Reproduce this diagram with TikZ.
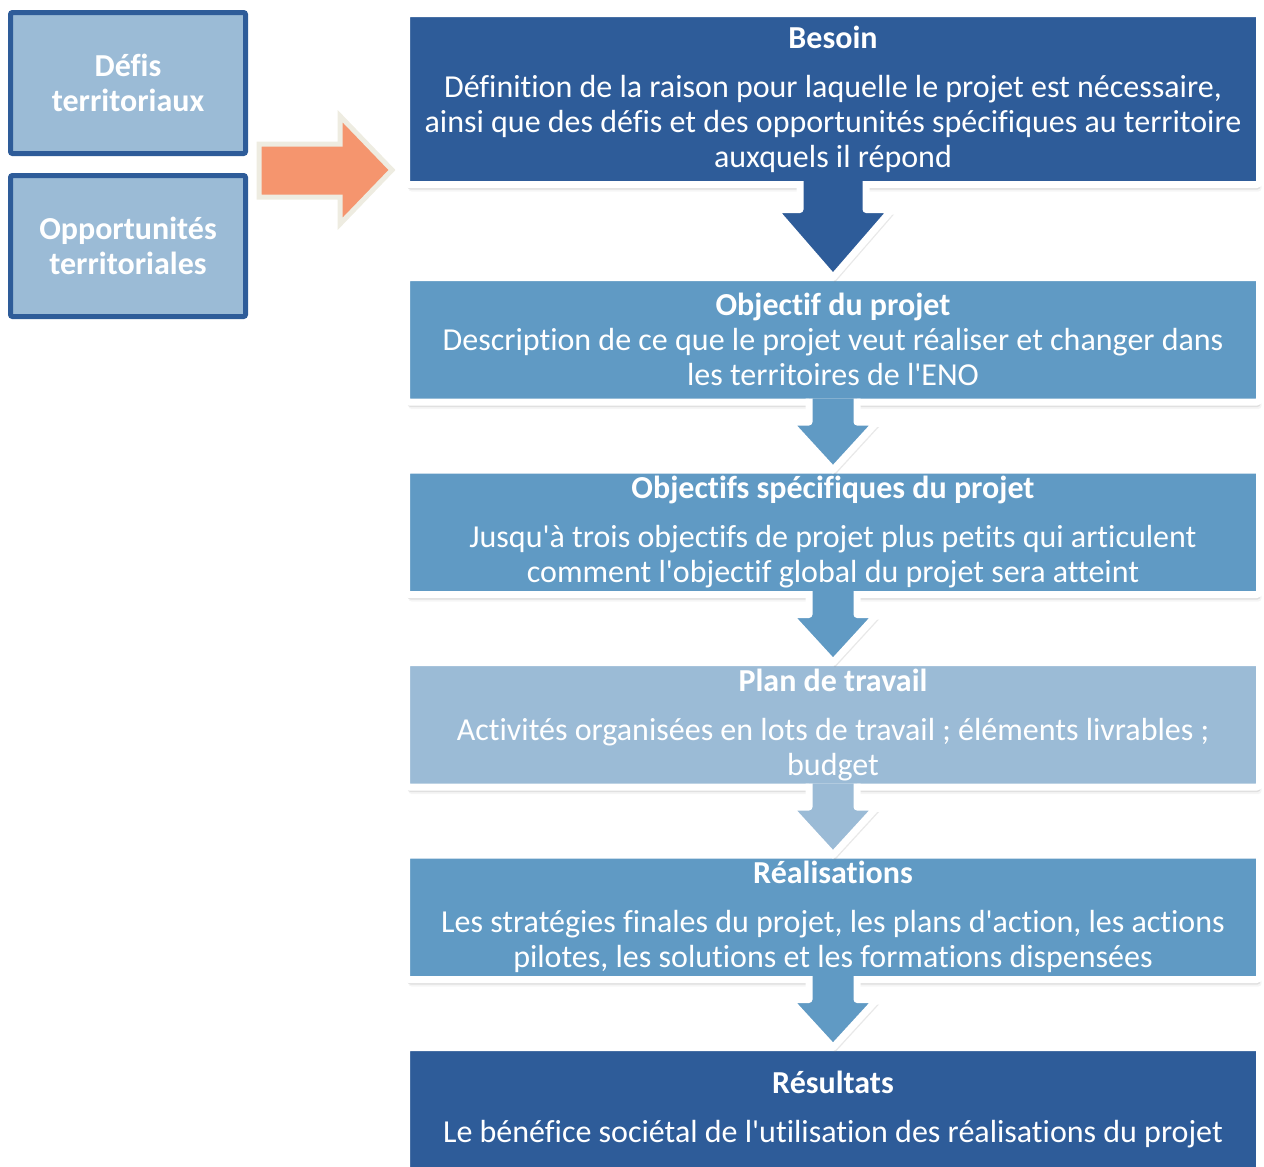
\documentclass[tikz,border=0pt]{standalone}
\usepackage{fontspec}
\setmainfont{Carlito}[Ligatures={TeXOff,CommonOff}]
\usetikzlibrary{positioning,calc,shadows}

\definecolor{dkblue}{RGB}{46,92,153}
\definecolor{midblue}{RGB}{96,154,196}
\definecolor{ltblue}{RGB}{155,187,214}
\definecolor{arrorange}{RGB}{245,149,110}
\definecolor{arrborder}{RGB}{238,236,225}

\begin{document}
\begin{tikzpicture}[x=0.5pt, y=-0.5pt,
  stepbox/.style={draw=white, line width=3.5pt, text=white, align=center,
    minimum width=426.5pt, minimum height=62.25pt, inner sep=0pt, outer sep=0pt,
    rounded corners=1.5pt, font={\fontsize{16}{17.5}\selectfont},
    drop shadow={shadow xshift=0.5pt, shadow yshift=-2.5pt, opacity=0.18},
    drop shadow={shadow xshift=1pt, shadow yshift=-3.5pt, opacity=0.08}},
  sidebox/.style={fill=ltblue, draw=dkblue, line width=2.5pt, rounded corners=1pt,
    text=white, align=center, minimum width=117.5pt, minimum height=70.5pt,
    inner sep=0pt, outer sep=0pt, font={\fontsize{16}{17.5}\selectfont\bfseries}},
  downarrow/.style={draw=white, line width=3.5pt, line join=round,
    drop shadow={shadow xshift=1pt, shadow yshift=-2.5pt, opacity=0.18}}]

  \useasboundingbox (0,0) rectangle (1264,1167);
  \clip (0,0) rectangle (1264,1167);

  % left boxes
  \node[sidebox] (defis) at (128,83) {Défis\\territoriaux};
  \node[sidebox, below=11pt of defis] (opport) {Opportunités\\territoriales};

  % orange arrow
  \draw[fill=arrorange, draw=arrborder, line width=2.5pt]
    (259,144) -- (340,144) -- (340,116) -- (392,170) -- (340,224) -- (340,197) -- (259,197) -- cycle;

  % steps
  \node[stepbox, fill=dkblue, minimum height=85.5pt] (besoin) at (833,99)
    {\textbf{Besoin}\\[7pt]
     Définition de la raison pour laquelle le projet est nécessaire,\\
     ainsi que des défis et des opportunités spécifiques au territoire\\
     auxquels il répond};
  \node[stepbox, fill=midblue, below=46.5pt of besoin] (objectif)
    {\textbf{Objectif du projet}\\
     Description de ce que le projet veut réaliser et changer dans\\
     les territoires de l'ENO};
  \node[stepbox, fill=midblue, below=34pt of objectif] (specif)
    {\textbf{Objectifs spécifiques du projet}\\[7pt]
     Jusqu'à trois objectifs de projet plus petits qui articulent\\
     comment l'objectif global du projet sera atteint};
  \node[stepbox, fill=ltblue, below=34pt of specif] (plan)
    {\textbf{Plan de travail}\\[7pt]
     Activités organisées en lots de travail ; éléments livrables ;\\
     budget};
  \node[stepbox, fill=midblue, below=34pt of plan] (realis)
    {\textbf{Réalisations}\\[7pt]
     Les stratégies finales du projet, les plans d'action, les actions\\
     pilotes, les solutions et les formations dispensées};
  \node[stepbox, fill=dkblue, below=34pt of realis] (result)
    {\textbf{Résultats}\\[7pt]
     Le bénéfice sociétal de l'utilisation des réalisations du projet};

  % down arrows
  \path[downarrow, fill=dkblue] ($(besoin.south)+(33,-3.5)$) -- ++(0,28.5) -- ++(26,0)
    -- (objectif.north) -- ($(besoin.south)+(-59,25)$) -- ++(26,0) -- ++(0,-28.5);
  \foreach \a/\b/\c in {objectif/specif/midblue, specif/plan/midblue, plan/realis/ltblue, realis/result/midblue}
    \path[downarrow, fill=\c] ($(\a.south)+(24,-3.5)$) -- ++(0,23.5) -- ++(20,0)
      -- (\b.north) -- ($(\a.south)+(-44,20)$) -- ++(20,0) -- ++(0,-23.5);

\end{tikzpicture}
\end{document}
